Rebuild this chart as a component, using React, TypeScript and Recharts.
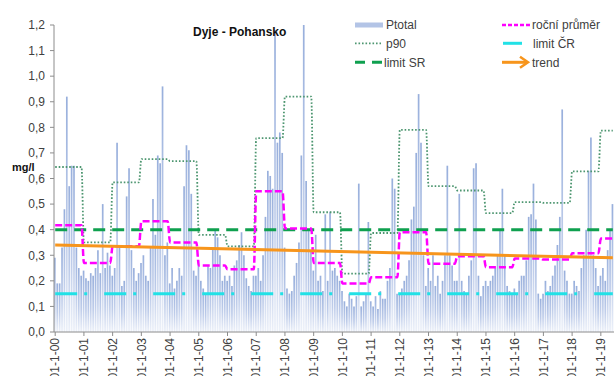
import React from 'react';
import { ComposedChart, Bar, Line, XAxis, YAxis } from 'recharts';

// Monthly total phosphorus (mg/l), one row of 12 months per year, Jan 2000 – Jun 2019
const ptotalByYear: number[][] = [
  [0.29, 0.19, 0.19, 0.33, 0.48, 0.92, 0.57, 0.65, 0.65, 0.33, 0.25, 0.22],
  [0.24, 0.21, 0.20, 0.23, 0.22, 0.25, 0.32, 0.23, 0.50, 0.25, 0.31, 0.26],
  [0.22, 0.25, 0.74, 0.33, 0.18, 0.20, 0.53, 0.64, 0.32, 0.25, 0.20, 0.23],
  [0.27, 0.30, 0.22, 0.20, 0.33, 0.52, 0.38, 0.69, 0.66, 0.96, 0.30, 0.35],
  [0.19, 0.25, 0.17, 0.20, 0.25, 0.22, 0.57, 0.73, 0.71, 0.54, 0.24, 0.22],
  [0.28, 0.20, 0.17, 0.15, 0.26, 0.25, 0.33, 0.40, 0.37, 0.30, 0.20, 0.22],
  [0.20, 0.22, 0.18, 0.26, 0.28, 0.34, 0.39, 0.30, 0.21, 0.18, 0.16, 0.22],
  [0.22, 0.25, 0.20, 0.30, 0.45, 0.63, 0.61, 0.56, 1.18, 0.74, 0.78, 0.70],
  [0.33, 0.17, 0.15, 0.16, 0.22, 0.27, 0.35, 0.69, 1.20, 0.59, 0.40, 0.32],
  [0.24, 0.38, 0.20, 0.22, 0.16, 0.46, 0.20, 0.47, 0.24, 0.25, 0.22, 0.20],
  [0.16, 0.12, 0.10, 0.15, 0.13, 0.10, 0.14, 0.58, 0.10, 0.12, 0.15, 0.43],
  [0.12, 0.10, 0.14, 0.09, 0.16, 0.13, 0.13, 0.20, 0.25, 0.60, 0.56, 0.15],
  [0.15, 0.17, 0.20, 0.22, 0.28, 0.44, 0.49, 0.70, 0.93, 0.74, 0.30, 0.18],
  [0.25, 0.20, 0.30, 0.18, 0.22, 0.15, 0.20, 0.30, 0.65, 0.30, 0.26, 0.20],
  [0.20, 0.54, 0.20, 0.16, 0.15, 0.22, 0.28, 0.64, 0.66, 0.22, 0.14, 0.18],
  [0.20, 0.18, 0.20, 0.22, 0.25, 0.30, 0.40, 0.56, 0.30, 0.18, 0.16, 0.15],
  [0.17, 0.15, 0.20, 0.22, 0.22, 0.28, 0.45, 0.46, 0.58, 0.44, 0.15, 0.13],
  [0.15, 0.20, 0.16, 0.18, 0.22, 0.26, 0.34, 0.45, 0.87, 0.24, 0.20, 0.15],
  [0.15, 0.20, 0.18, 0.16, 0.25, 0.30, 0.40, 0.63, 0.76, 0.30, 0.25, 0.18],
  [0.22, 0.25, 0.20, 0.32, 0.40, 0.50],
];

// Yearly 90th percentile and yearly mean
const p90ByYear = [0.645, 0.35, 0.585, 0.676, 0.668, 0.38, 0.335, 0.758, 0.92, 0.468, 0.228, 0.387, 0.79, 0.57, 0.553, 0.465, 0.508, 0.505, 0.628, 0.787];
const annualMean = [0.417, 0.27, 0.335, 0.433, 0.35, 0.26, 0.245, 0.55, 0.405, 0.27, 0.19, 0.214, 0.39, 0.267, 0.296, 0.253, 0.287, 0.283, 0.308, 0.365];

// Limits and linear trend (start, end)
const LIMIT_SR = 0.4;
const LIMIT_CR = 0.15;
const trendEnds = [0.34, 0.29];

const yearCodes = ['00', '01', '02', '03', '04', '05', '06', '07', '08', '09', '10', '11', '12', '13', '14', '15', '16', '17', '18', '19'];
const xTickLabels = ['01-1-00', '01-1-01', '01-1-02', '01-1-03', '01-1-04', '01-1-05', '01-1-06', '01-1-07', '01-1-08', '01-1-09', '01-1-10', '01-1-11', '01-1-12', '01-1-13', '01-1-14', '01-1-15', '01-1-16', '01-1-17', '01-1-18', '01-1-19'];
const yTicks = [0, 0.1, 0.2, 0.3, 0.4, 0.5, 0.6, 0.7, 0.8, 0.9, 1.0, 1.1, 1.2];

type Row = {
  date: string;
  ptotal: number;
  p90: number;
  mean: number;
  limitSR: number;
  limitCR: number;
  trend: number | null;
};

const rows: Row[] = [];
ptotalByYear.forEach((months, y) => {
  months.forEach((v, m) => {
    rows.push({
      date: `01-${m + 1}-${yearCodes[y]}`,
      ptotal: v,
      p90: p90ByYear[y],
      mean: annualMean[y],
      limitSR: LIMIT_SR,
      limitCR: LIMIT_CR,
      trend: null,
    });
  });
});
rows[0].trend = trendEnds[0];
rows[rows.length - 1].trend = trendEnds[1];

const FONT = '"Liberation Sans", Arial, sans-serif';
const TEXT = '#404040';
const AXIS = '#8c8c8c';

const C_P90 = '#4d9670';
const C_SR = '#0fa04f';
const C_MEAN = '#ff00ff';
const C_CR = '#21e1e6';
const C_TREND = '#f7951c';

const XTick = (props: any) => {
  const { x, y, payload } = props;
  return (
    <g transform={`translate(${x},${y}) rotate(-90)`}>
      <text x={0} y={0} dy="0.35em" textAnchor="end" fontSize={12} fontFamily={FONT} fill={TEXT}>
        {payload.value}
      </text>
    </g>
  );
};

const legendRowY = [25, 43.3, 62.3];

const Overlay = () => (
  <svg width={614} height={376} style={{ position: 'absolute', left: 0, top: 0, pointerEvents: 'none' }}>
    <text x={193} y={36} fontSize={12} fontWeight="bold" fontFamily={FONT} fill="#111">
      Dyje - Pohansko
    </text>
    <text x={12} y={171} fontSize={11} fontWeight="bold" fontFamily={FONT} fill="#111">
      mg/l
    </text>

    {/* left legend column */}
    <rect x={355} y={legendRowY[0] - 2.5} width={28} height={5} fill="#b3c4e6" />
    <text x={386} y={legendRowY[0] + 4.3} fontSize={12} fontFamily={FONT} fill={TEXT}>Ptotal</text>

    <line x1={355} x2={381} y1={legendRowY[1]} y2={legendRowY[1]} stroke={C_P90} strokeWidth={1.8} strokeDasharray="1.6 1.9" />
    <text x={386} y={legendRowY[1] + 4.3} fontSize={12} fontFamily={FONT} fill={TEXT}>p90</text>

    <line x1={355} x2={382} y1={legendRowY[2]} y2={legendRowY[2]} stroke={C_SR} strokeWidth={3} strokeDasharray="10 7" />
    <text x={384} y={legendRowY[2] + 4.3} fontSize={12} fontFamily={FONT} fill={TEXT}>limit SR</text>

    {/* right legend column */}
    <line x1={502} x2={530} y1={legendRowY[0]} y2={legendRowY[0]} stroke={C_MEAN} strokeWidth={2.5} strokeDasharray="4 2" />
    <text x={532} y={legendRowY[0] + 4.3} fontSize={12} fontFamily={FONT} fill={TEXT}>roční průměr</text>

    <line x1={503} x2={522} y1={legendRowY[1]} y2={legendRowY[1]} stroke={C_CR} strokeWidth={3} />
    <text x={533} y={legendRowY[1] + 4.3} fontSize={12} fontFamily={FONT} fill={TEXT}>limit ČR</text>

    <line x1={502} x2={527} y1={legendRowY[2]} y2={legendRowY[2]} stroke={C_TREND} strokeWidth={3} />
    <polyline points={`520,${legendRowY[2] - 5.5} 528,${legendRowY[2]} 520,${legendRowY[2] + 5.5}`} fill="none" stroke={C_TREND} strokeWidth={2.5} />
    <text x={532} y={legendRowY[2] + 4.3} fontSize={12} fontFamily={FONT} fill={TEXT}>trend</text>
  </svg>
);

export default function App() {
  return (
    <div style={{ position: 'absolute', left: 0, top: 0, width: 614, height: 376, overflow: 'hidden', background: '#fff' }}>
      <ComposedChart width={614} height={376} data={rows} margin={{ top: 25, right: 0, bottom: 0, left: 0 }} barCategoryGap={0}>
        <defs>
          <linearGradient id="ptotalFill" x1="0" y1="0" x2="0" y2="1">
            <stop offset="0" stopColor="#98afdc" />
            <stop offset="0.6" stopColor="#bfcdea" />
            <stop offset="1" stopColor="#edf1f9" />
          </linearGradient>
        </defs>
        <XAxis
          dataKey="date"
          ticks={xTickLabels}
          interval={0}
          tick={<XTick />}
          tickSize={4}
          tickMargin={2}
          height={44}
          axisLine={{ stroke: AXIS }}
          tickLine={{ stroke: AXIS }}
        />
        <YAxis
          type="number"
          domain={[0, 1.2]}
          ticks={yTicks}
          width={54}
          tickSize={4}
          tickMargin={5}
          interval={0}
          tickFormatter={(v: number) => v.toFixed(1).replace('.', ',')}
          tick={{ fontSize: 12, fill: TEXT, fontFamily: FONT }}
          axisLine={{ stroke: AXIS }}
          tickLine={{ stroke: AXIS }}
        />
        <Bar dataKey="ptotal" fill="url(#ptotalFill)" barSize={1.7} isAnimationActive={false} />
        <Line dataKey="p90" type="monotone" stroke={C_P90} strokeWidth={1.8} strokeDasharray="1.6 1.9" dot={false} activeDot={false} isAnimationActive={false} />
        <Line dataKey="limitSR" type="linear" stroke={C_SR} strokeWidth={3} strokeDasharray="12 7" dot={false} activeDot={false} isAnimationActive={false} />
        <Line dataKey="mean" type="monotone" stroke={C_MEAN} strokeWidth={2.5} strokeDasharray="7 3" dot={false} activeDot={false} isAnimationActive={false} />
        <Line dataKey="limitCR" type="linear" stroke={C_CR} strokeWidth={3} strokeDasharray="22 7 3 17" dot={false} activeDot={false} isAnimationActive={false} />
        <Line dataKey="trend" type="linear" connectNulls stroke={C_TREND} strokeWidth={3} dot={false} activeDot={false} isAnimationActive={false} />
      </ComposedChart>
      <Overlay />
    </div>
  );
}
